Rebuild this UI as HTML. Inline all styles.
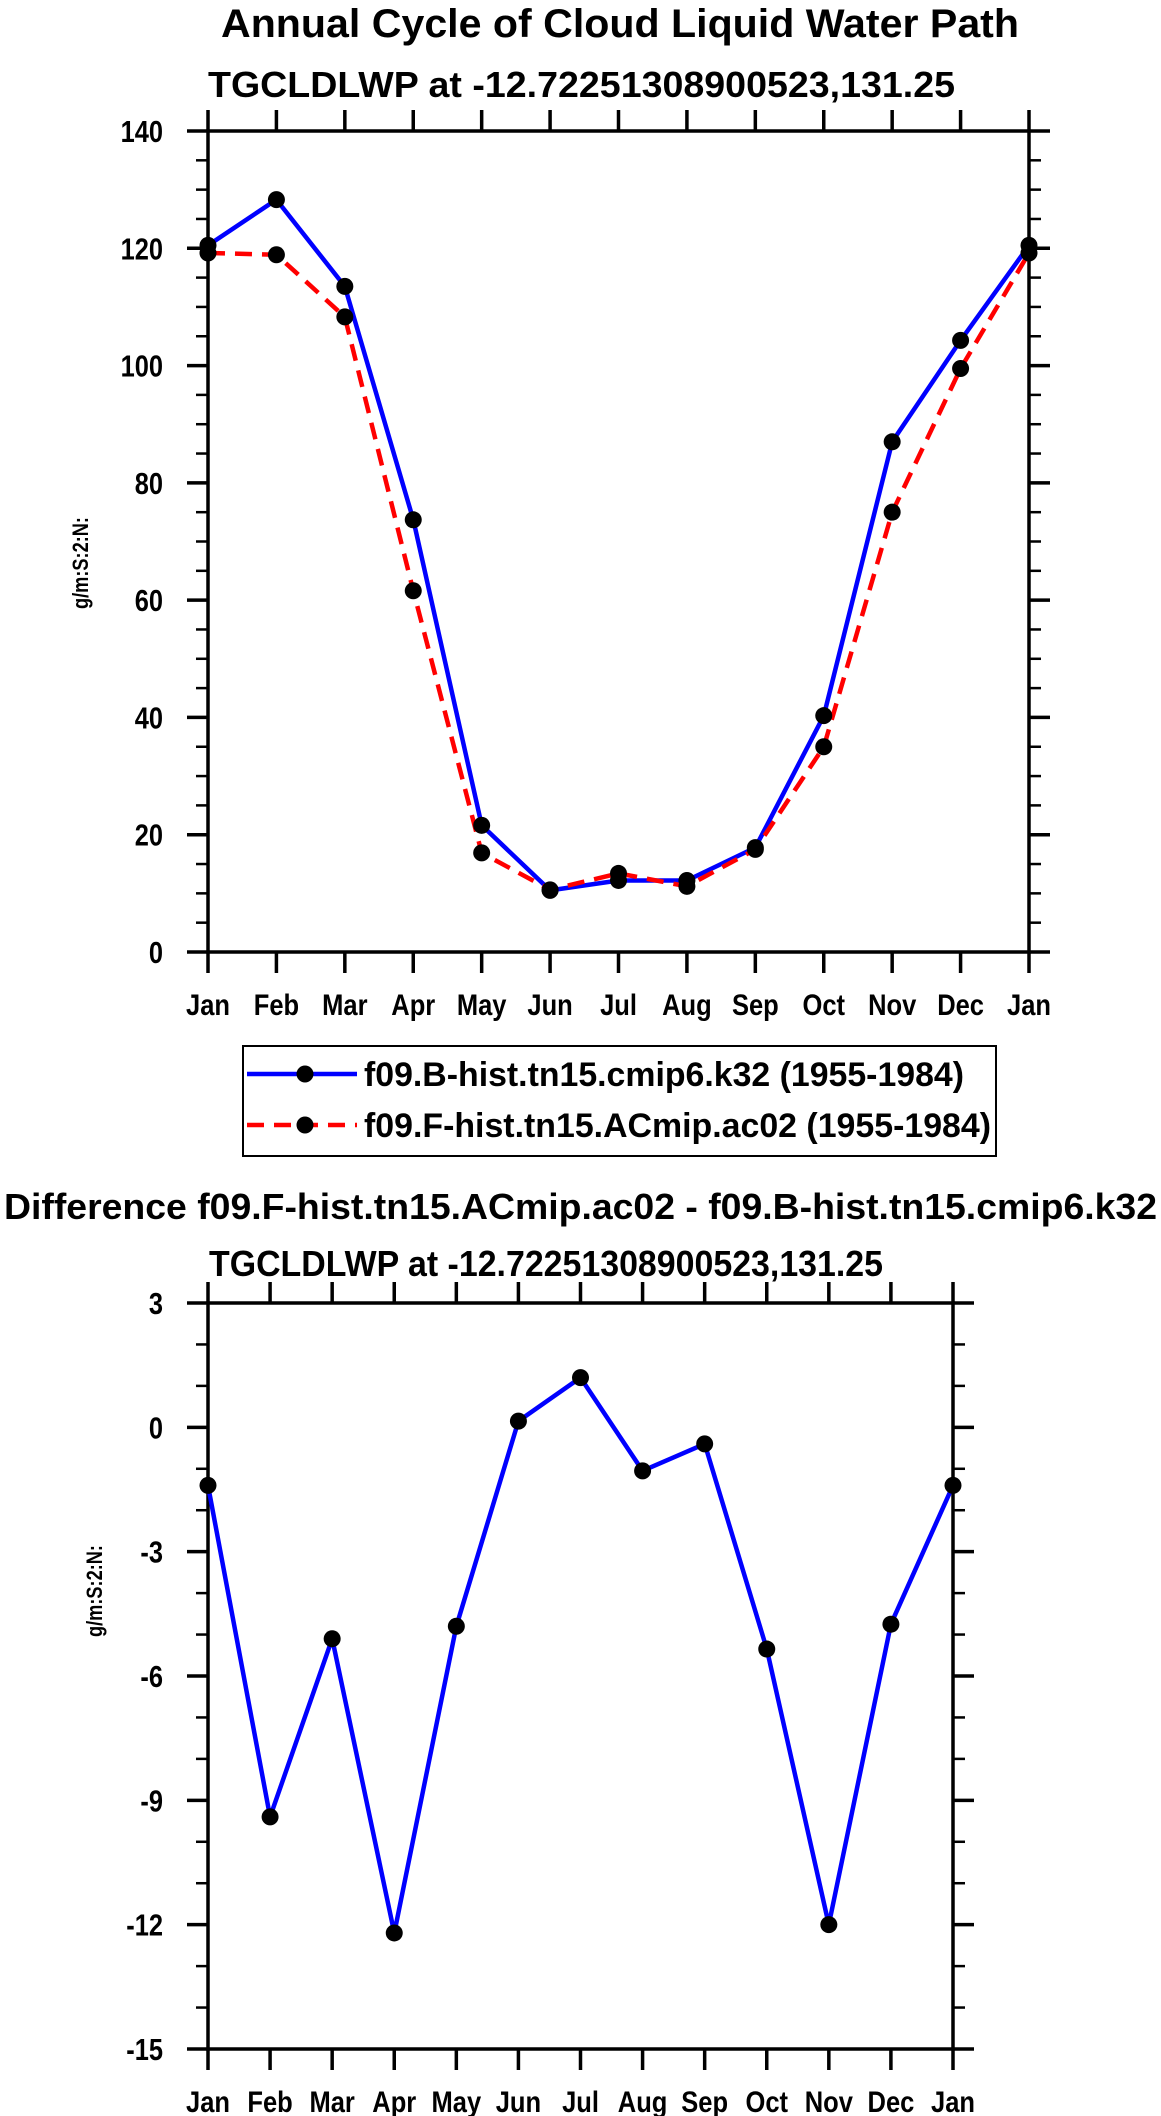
<!DOCTYPE html>
<html><head><meta charset="utf-8"><style>
html,body{margin:0;padding:0;background:#fff;}
svg{display:block;font-family:"Liberation Sans",Arial,sans-serif;font-weight:bold;}
</style></head><body>
<svg id="chart" width="1161" height="2116" viewBox="0 0 1161 2116" xmlns="http://www.w3.org/2000/svg">
<text x="221" y="37" font-size="40" textLength="798" lengthAdjust="spacingAndGlyphs">Annual Cycle of Cloud Liquid Water Path</text>
<text x="208" y="97" font-size="36" textLength="747" lengthAdjust="spacingAndGlyphs">TGCLDLWP at -12.72251308900523,131.25</text>
<g id="top"></g>
<g>
<rect x="243" y="1046" width="753" height="110" fill="none" stroke="#000" stroke-width="2"/>
<g>
<line x1="247" y1="1074" x2="357" y2="1074" stroke="#0000ff" stroke-width="4.5"/>
<circle cx="305" cy="1074" r="8.5" fill="#000"/>
<text x="364" y="1086" font-size="34" textLength="600" lengthAdjust="spacingAndGlyphs">f09.B-hist.tn15.cmip6.k32 (1955-1984)</text>
</g>
<g>
<line x1="247" y1="1125" x2="357" y2="1125" stroke="#ff0000" stroke-width="4.5" stroke-dasharray="17,10"/>
<circle cx="305" cy="1125" r="8.5" fill="#000"/>
<text x="364" y="1137" font-size="34" textLength="627" lengthAdjust="spacingAndGlyphs">f09.F-hist.tn15.ACmip.ac02 (1955-1984)</text>
</g>
</g>
<text x="4" y="1219" font-size="36" textLength="1153" lengthAdjust="spacingAndGlyphs">Difference f09.F-hist.tn15.ACmip.ac02 - f09.B-hist.tn15.cmip6.k32</text>
<text x="209" y="1276" font-size="36" textLength="674" lengthAdjust="spacingAndGlyphs">TGCLDLWP at -12.72251308900523,131.25</text>
<g id="bot"></g>
</svg>
<script>
const months = ["Jan","Feb","Mar","Apr","May","Jun","Jul","Aug","Sep","Oct","Nov","Dec","Jan"];
const bHist = [120.5,128.3,113.5,73.7,21.6,10.5,12.2,12.2,17.8,40.3,87.0,104.3,120.5];
const fHist = [119.2,118.9,108.3,61.6,16.9,10.6,13.4,11.2,17.5,35.0,75.0,99.5,119.2];
const diffVals = [-1.4,-9.4,-5.1,-12.2,-4.8,0.15,1.2,-1.05,-0.4,-5.35,-12.0,-4.75,-1.4];
const topYTicks = [0,20,40,60,80,100,120,140];
const botYTicks = [-15,-12,-9,-6,-3,0,3];

const NS = "http://www.w3.org/2000/svg";
function mk(parent, tag, attrs){
  const e = document.createElementNS(NS, tag);
  for (const k in attrs) e.setAttribute(k, attrs[k]);
  parent.appendChild(e);
  return e;
}
function drawPlot(g, box, ymin, ymax, yticks, minorStep, series, ytitleX, ytitleY){
  const xs = i => box.l + (box.r - box.l) * i / (months.length - 1);
  const ys = v => box.b - (box.b - box.t) * (v - ymin) / (ymax - ymin);
  for (let v = ymin; v <= ymax + 1e-9; v += minorStep){
    const y = ys(v);
    const t1 = mk(g,"line",{x1:box.l-12,y1:y,x2:box.l,y2:y,stroke:"#000","stroke-width":2.5});
    
    
    const t2 = mk(g,"line",{x1:box.r,y1:y,x2:box.r+12,y2:y,stroke:"#000","stroke-width":2.5});
    
    
  }
  yticks.forEach(v => {
    const y = ys(v);
    const t1 = mk(g,"line",{x1:box.l-21,y1:y,x2:box.l,y2:y,stroke:"#000","stroke-width":3.5});
    
    
    const t2 = mk(g,"line",{x1:box.r,y1:y,x2:box.r+21,y2:y,stroke:"#000","stroke-width":3.5});
    
    
    const lb = mk(g,"text",{x:0,y:0,"font-size":31,"text-anchor":"end",transform:`translate(${box.l-45},${y+11}) scale(0.82,1)`});
    lb.textContent = String(v);
    
    
  });
  months.forEach((m,i) => {
    const x = xs(i);
    const t1 = mk(g,"line",{x1:x,y1:box.b,x2:x,y2:box.b+21,stroke:"#000","stroke-width":3.5});
    
    
    const t2 = mk(g,"line",{x1:x,y1:box.t-21,x2:x,y2:box.t,stroke:"#000","stroke-width":3.5});
    
    
    const lb = mk(g,"text",{x:0,y:0,"font-size":30,"text-anchor":"middle",transform:`translate(${x},${box.b+63}) scale(0.85,1)`});
    lb.textContent = m;
    
    
  });
  const frame = mk(g,"rect",{x:box.l,y:box.t,width:box.r-box.l,height:box.b-box.t,fill:"none",stroke:"#000","stroke-width":3.5});
  
  
  const yt = mk(g,"text",{x:0,y:0,"font-size":22,"text-anchor":"middle",textLength:"92",lengthAdjust:"spacingAndGlyphs",transform:`translate(${ytitleX},${ytitleY}) rotate(-90)`});
  yt.textContent = "g/m:S:2:N:";
  
  
  series.forEach(s => {
    const pts = s.vals.map((v,i)=>xs(i).toFixed(1)+","+ys(v).toFixed(1)).join(" ");
    const pl = mk(g,"polyline",{points:pts,fill:"none",stroke:s.color,"stroke-width":4.5,"stroke-dasharray":s.dash||"none","stroke-linejoin":"round"});
    
    
  });
  series.forEach(s => {
    s.vals.forEach((v,i) => {
      const c = mk(g,"circle",{cx:xs(i),cy:ys(v),r:8.5,fill:"#000"});
      
      
    });
  });
}
drawPlot(document.getElementById("top"), {l:208,r:1029,t:131,b:952}, 0, 140, topYTicks, 5,
  [{vals:bHist,color:"#0000ff",name:"b-hist"},{vals:fHist,color:"#ff0000",dash:"17,10",name:"f-hist"}], 88, 563);
drawPlot(document.getElementById("bot"), {l:208,r:953,t:1303,b:2049}, -15, 3, botYTicks, 1,
  [{vals:diffVals,color:"#0000ff",name:"difference"}], 102, 1591);
</script>
</body></html>
